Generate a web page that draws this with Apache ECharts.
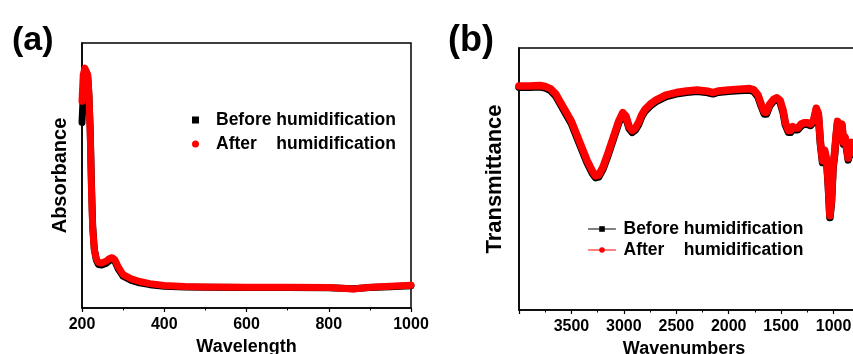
<!DOCTYPE html>
<html>
<head>
<meta charset="utf-8">
<script src="https://cdn.jsdelivr.net/npm/echarts@6/dist/echarts.min.js"></script>
<style>
html,body{margin:0;padding:0;background:#fff;}
#chart{width:853px;height:354px;}
</style>
</head>
<body>
<div id="chart"></div>
<script>
// (a) UV-vis
var wavelength = [200,203,207,211,214,217,220,223,226,230,235,240,248,258,266,273,280,288,300,320,340,365,400,450,500,600,700,800,860,900,950,1000];
var absBefore = [70,80,86,89,87,80,67,47,31,22,18,16.4,16.2,16.8,17.8,18.3,17.6,14.8,12.0,10.4,9.5,8.8,8.2,7.9,7.8,7.7,7.7,7.6,7.3,7.7,8.0,8.4];
var absAfter = [78,88,90.5,90.5,88,80,66,45,30,22,18.5,17.2,17.0,17.6,18.6,19.0,18.2,15.5,12.6,11.0,10.0,9.2,8.5,8.1,7.9,7.8,7.8,7.7,7.2,7.8,8.2,8.6];

// (b) FTIR
var wavenumber = [4000,3900,3800,3750,3700,3650,3600,3550,3500,3450,3400,3350,3300,3270,3240,3200,3150,3100,3050,3010,2980,2950,2920,2890,2860,2830,2800,2750,2700,2600,2500,2400,2300,2200,2150,2100,2000,1900,1800,1760,1720,1690,1660,1640,1610,1570,1540,1510,1480,1460,1430,1410,1390,1370,1340,1310,1280,1250,1220,1190,1165,1145,1125,1105,1085,1065,1050,1035,1020,1005,990,975,962,948,935,920,905,890,875,860,845,830,815,800];
var transBefore = [85,85,85.2,84.8,83.8,81.7,78.2,74.6,71.1,66.1,61.1,56.2,52.2,50.5,50.8,53.7,59.2,65.2,71.3,74.7,73.3,69.3,67.8,68.8,70.8,73.8,75.8,77.8,79.4,81.4,82.5,83.1,83.5,83,82.5,83.1,83.5,83.8,84,83.4,81.3,77.8,74.8,74.8,77.9,79.9,80.4,79.3,75.2,70.7,67.8,67.8,69.3,68.8,68.8,70.3,70.9,70.9,70.4,71.8,76.3,74.2,63.2,56.3,60.3,56.3,47.2,35.3,41.2,54.2,59.3,66.3,71.3,65.3,68.3,70.3,63.3,65.3,61.3,57.3,60.3,63.3,61.3,59.3];
var transAfter = [85.5,85.5,85.7,85.3,84.5,82.5,79,75.5,72,67,62,57,53,51.2,51.5,54.5,60,66,72,75.3,74,70,68.5,69.5,71.5,74.5,76.5,78.5,80,82,83,83.6,84,83.5,83,83.6,84,84.3,84.5,84,82,78.5,75.5,75.5,78.5,80.5,81,80,76,71.5,68.5,68.5,70,69.5,69.5,71,71.5,71.5,71,72.5,77,75,64,57,61,57,48,36,42,55,60,67,72,66,69,71,64,66,62,58,61,64,62,60];

var nameBefore = 'Before humidification';
var nameAfter = 'After    humidification';

function zip(xs, ys){
    var out = [];
    for (var i = 0; i < xs.length; i++) out.push([xs[i], ys[i]]);
    return out;
}

var font = 'Liberation Sans, Arial, sans-serif';
var boldText = {color:'#000', fontFamily:font, fontWeight:'bold'};

function xAxisBase(){
    return {
        type:'value',
        axisLine:{show:true, lineStyle:{color:'#000', width:1.5}},
        axisTick:{show:true, inside:false, length:4, lineStyle:{color:'#000', width:1.2}},
        minorTick:{show:true, splitNumber:2, length:2.5, lineStyle:{color:'#000', width:1}},
        splitLine:{show:false},
        minorSplitLine:{show:false},
        axisLabel:Object.assign({fontSize:16, margin:9, formatter:function(v){ return String(v); }}, boldText),
        nameLocation:'middle',
        nameTextStyle:Object.assign({fontSize:18}, boldText)
    };
}

function yAxisBase(){
    return {
        type:'value', min:0, max:100,
        axisLine:{show:true, lineStyle:{color:'#000', width:1.5}},
        axisTick:{show:false},
        axisLabel:{show:false},
        splitLine:{show:false},
        nameLocation:'middle',
        nameRotate:90
    };
}

var xa = xAxisBase();
xa.gridIndex = 0; xa.min = 200; xa.max = 1000; xa.interval = 200;
xa.name = 'Wavelength'; xa.nameGap = 22;

var xb = xAxisBase();
xb.gridIndex = 1; xb.min = 500; xb.max = 4000; xb.interval = 500; xb.inverse = true;
xb.name = 'Wavenumbers'; xb.nameGap = 22;
xb.nameTextStyle.padding = [0, 37, 0, 0];
xb.axisLabel.formatter = function(v){ return (v === 4000 || v === 500) ? '' : String(v); };

var ya = yAxisBase();
ya.gridIndex = 0; ya.name = 'Absorbance'; ya.nameGap = 12;
ya.nameTextStyle = Object.assign({fontSize:20}, boldText);

var yb = yAxisBase();
yb.gridIndex = 1; yb.name = 'Transmittance'; yb.nameGap = 13;
yb.nameTextStyle = Object.assign({fontSize:22}, boldText);

function lineSeries(name, xi, data, color, sym, w){
    return {
        name:name, type:'line', xAxisIndex:xi, yAxisIndex:xi,
        data:data, symbol:sym, symbolSize:6, showSymbol:false,
        lineStyle:{color:color, width:w, cap:'round', join:'round'},
        itemStyle:{color:color},
        clip:true, silent:true
    };
}

var myChart = echarts.init(document.getElementById('chart'), null, {renderer:'canvas'});
var option = {
    animation:false,
    backgroundColor:'#fff',
    title:[
        {text:'(a)', left:7, top:19, textStyle:Object.assign({fontSize:34}, boldText)},
        {text:'(b)', left:443, top:18, textStyle:Object.assign({fontSize:36}, boldText)}
    ],
    grid:[
        {left:82, right:442, top:43, bottom:46, show:true, borderColor:'#000', borderWidth:1.5, outerBoundsMode:'none'},
        {left:519, right:-33, top:48, bottom:44, show:true, borderColor:'#000', borderWidth:1.5, outerBoundsMode:'none'}
    ],
    legend:[
        {
            left:187, top:106, orient:'vertical', itemWidth:7, itemHeight:7, itemGap:6,
            data:[{name:nameBefore, icon:'rect'}, {name:nameAfter, icon:'circle'}],
            textStyle:Object.assign({fontSize:17.5, padding:[0,0,0,12]}, boldText),
            selectedMode:false
        },
        {
            left:583, top:215, orient:'vertical', itemWidth:27, itemHeight:7, itemGap:3,
            data:[nameBefore, nameAfter],
            lineStyle:{width:1},
            textStyle:Object.assign({fontSize:17.5, padding:[0,0,0,3]}, boldText),
            selectedMode:false
        }
    ],
    xAxis:[xa, xb],
    yAxis:[ya, yb],
    series:[
        lineSeries(nameBefore, 0, zip(wavelength, absBefore), '#000000', 'rect', 7),
        lineSeries(nameAfter, 0, zip(wavelength, absAfter), '#ff0000', 'circle', 7),
        lineSeries(nameBefore, 1, zip(wavenumber, transBefore), '#000000', 'rect', 7.5),
        lineSeries(nameAfter, 1, zip(wavenumber, transAfter), '#ff0000', 'circle', 7.5)
    ]
};
myChart.setOption(option);
</script>
</body>
</html>
